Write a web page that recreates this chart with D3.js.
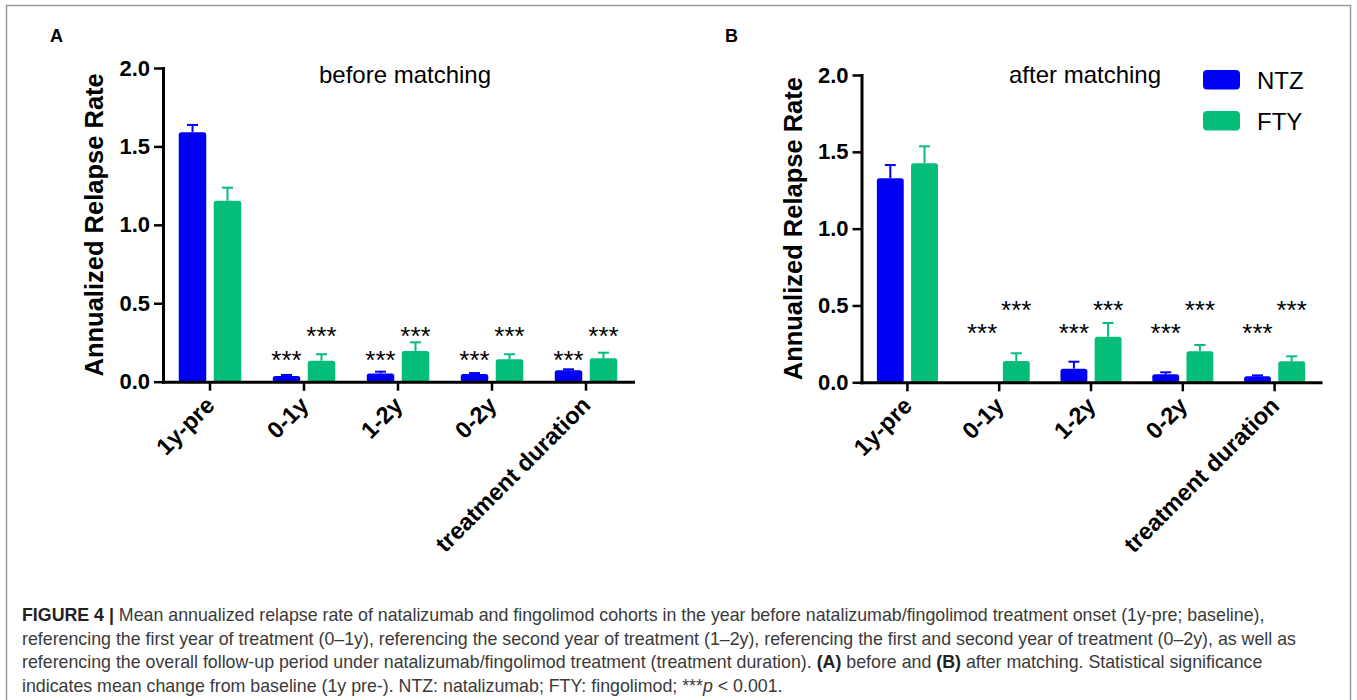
<!DOCTYPE html>
<html>
<head>
<meta charset="utf-8">
<script src="https://cdn.jsdelivr.net/npm/d3@7/dist/d3.min.js"></script>
<style>
  html, body { margin: 0; padding: 0; background: #fff; }
  svg { display: block; font-family: "Liberation Sans", Arial, Helvetica, sans-serif; }
</style>
</head>
<body>
<svg id="fig" width="1357" height="700"></svg>
<script>
// Annualized relapse rate per period, natalizumab (NTZ) vs fingolimod (FTY)
const categories = ["1y-pre", "0-1y", "1-2y", "0-2y", "treatment duration"];
const seriesNames = ["NTZ", "FTY"];
const yTicks = [0, 0.5, 1.0, 1.5, 2.0];

// Panel A: before matching (mean and upper SEM)
const beforeNTZ    = [1.591, 0.036, 0.053, 0.049, 0.073];
const beforeNTZErr = [0.046, 0.007, 0.011, 0.006, 0.006];
const beforeFTY    = [1.154, 0.134, 0.196, 0.143, 0.149];
const beforeFTYErr = [0.083, 0.041, 0.055, 0.032, 0.036];

// Panel B: after matching
const afterNTZ    = [1.328, 0.000, 0.089, 0.052, 0.039];
const afterNTZErr = [0.086, 0.000, 0.045, 0.013, 0.006];
const afterFTY    = [1.425, 0.139, 0.297, 0.202, 0.137];
const afterFTYErr = [0.111, 0.050, 0.089, 0.041, 0.032];

// Heights at which the significance marks sit (NTZ row, FTY row)
const beforeStarLevels = [0.170, 0.319];
const afterStarLevels  = [0.351, 0.499];
// Which periods carry a mark (all but baseline)
const significant = [false, true, true, true, true];

const colors = { NTZ: "#0000f5", FTY: "#03bd78" };

const svg = d3.select("#fig");
svg.append("rect").attr("width", 1357).attr("height", 700).attr("fill", "#fff");

// outer figure frame
svg.append("rect")
  .attr("x", 6.5).attr("y", 5.5).attr("width", 1344).attr("height", 700)
  .attr("fill", "none").attr("stroke", "#9a9a9a").attr("stroke-width", 1.5);

function drawPanel(opt) {
  const g = svg.append("g");
  const x = d3.scaleBand().domain(categories).range(opt.xRange);
  const inner = d3.scaleBand().domain(seriesNames).range([0, x.bandwidth()])
    .paddingInner(0.214).paddingOuter(0.45);
  const y = d3.scaleLinear().domain([0, 2]).range(opt.yRange);

  const rows = [];
  categories.forEach((c, i) => {
    rows.push({ cat: c, s: "NTZ", v: opt.ntz[i], e: opt.ntzErr[i], i });
    rows.push({ cat: c, s: "FTY", v: opt.fty[i], e: opt.ftyErr[i], i });
  });

  // bars
  g.selectAll("rect.bar").data(rows.filter(d => d.v > 0)).join("rect")
    .attr("class", "bar")
    .attr("x", d => x(d.cat) + inner(d.s))
    .attr("width", inner.bandwidth())
    .attr("y", d => y(d.v))
    .attr("height", d => y(0) - y(d.v))
    .attr("rx", 2.5)
    .attr("fill", d => colors[d.s]);

  // upper error bars
  const eb = g.selectAll("g.err").data(rows.filter(d => d.e > 0)).join("g")
    .attr("class", "err")
    .attr("stroke", d => colors[d.s]).attr("stroke-width", 2);
  eb.append("line")
    .attr("x1", d => x(d.cat) + inner(d.s) + inner.bandwidth() / 2)
    .attr("x2", d => x(d.cat) + inner(d.s) + inner.bandwidth() / 2)
    .attr("y1", d => y(d.v)).attr("y2", d => y(d.v + d.e));
  eb.append("line")
    .attr("x1", d => x(d.cat) + inner(d.s) + inner.bandwidth() / 2 - 5.5)
    .attr("x2", d => x(d.cat) + inner(d.s) + inner.bandwidth() / 2 + 5.5)
    .attr("y1", d => y(d.v + d.e)).attr("y2", d => y(d.v + d.e));

  // significance marks
  const starSize = 26;
  g.selectAll("text.star").data(rows.filter(d => significant[d.i])).join("text")
    .attr("class", "star")
    .attr("x", d => x(d.cat) + inner(d.s) + inner.bandwidth() / 2)
    .attr("y", d => y(opt.stars[d.s === "NTZ" ? 0 : 1]) + starSize * 0.53)
    .attr("text-anchor", "middle")
    .attr("font-size", starSize)
    .attr("fill", "#000")
    .text("***");

  // y axis
  const yAxis = g.append("g")
    .attr("transform", `translate(${opt.xRange[0]},0)`)
    .call(d3.axisLeft(y).tickValues(yTicks).tickFormat(d3.format(".1f"))
      .tickSize(9).tickSizeOuter(0).tickPadding(4));
  yAxis.select(".domain").attr("stroke-width", 3).attr("stroke-linecap", "square");
  yAxis.selectAll(".tick line").attr("stroke-width", 2.5);
  yAxis.selectAll(".tick text")
    .attr("font-family", "Liberation Sans, Arial, sans-serif")
    .attr("font-size", 22).attr("font-weight", "bold").attr("fill", "#000");

  // x axis
  const xAxis = g.append("g")
    .attr("transform", `translate(0,${opt.yRange[0]})`)
    .call(d3.axisBottom(x).tickSize(9).tickSizeOuter(0));
  xAxis.select(".domain").attr("stroke-width", 3).attr("stroke-linecap", "square");
  xAxis.selectAll(".tick line").attr("stroke-width", 2.5);
  xAxis.selectAll(".tick text")
    .attr("font-family", "Liberation Sans, Arial, sans-serif")
    .attr("font-size", 23.5).attr("font-weight", "bold").attr("fill", "#000")
    .attr("text-anchor", "end")
    .attr("y", 0).attr("dy", 0)
    .attr("transform", "translate(6,25) rotate(-45)");

  // y axis title
  const yMid = (opt.yRange[0] + opt.yRange[1]) / 2;
  g.append("text")
    .attr("transform", `translate(${opt.yTitleX},${yMid}) rotate(-90)`)
    .attr("text-anchor", "middle")
    .attr("font-size", 25.5).attr("font-weight", "bold")
    .text("Annualized Relapse Rate");

  // panel heading and letter
  g.append("text")
    .attr("x", opt.titleX).attr("y", 83.3)
    .attr("text-anchor", "middle").attr("font-size", 24)
    .text(opt.title);
  g.append("text")
    .attr("x", opt.letterX).attr("y", 42)
    .attr("font-size", 18).attr("font-weight", "bold")
    .text(opt.letter);
}

drawPanel({
  xRange: [163, 633], yRange: [381.7, 68],
  ntz: beforeNTZ, ntzErr: beforeNTZErr, fty: beforeFTY, ftyErr: beforeFTYErr,
  stars: beforeStarLevels, title: "before matching", titleX: 405,
  letter: "A", letterX: 50, yTitleX: 103
});

drawPanel({
  xRange: [861.5, 1320.5], yRange: [382.3, 75],
  ntz: afterNTZ, ntzErr: afterNTZErr, fty: afterFTY, ftyErr: afterFTYErr,
  stars: afterStarLevels, title: "after matching", titleX: 1085,
  letter: "B", letterX: 725, yTitleX: 802
});

// legend
const legend = svg.append("g");
const legendRows = [{ s: "NTZ", y: 70 }, { s: "FTY", y: 111 }];
legend.selectAll("rect").data(legendRows).join("rect")
  .attr("x", 1203).attr("y", d => d.y).attr("width", 37).attr("height", 19.5)
  .attr("rx", 4).attr("fill", d => colors[d.s]);
legend.selectAll("text").data(legendRows).join("text")
  .attr("x", 1257).attr("y", d => d.y + 19.3)
  .attr("font-size", 24).attr("fill", "#000")
  .text(d => d.s);

// caption
const cap = svg.append("g").attr("font-size", 17.8).attr("fill", "#3a3a3a");
const capLines = [
  [["FIGURE 4 | ", "b"], ["Mean annualized relapse rate of natalizumab and fingolimod cohorts in the year before natalizumab/fingolimod treatment onset (1y-pre; baseline),", ""]],
  [["referencing the first year of treatment (0\u20131y), referencing the second year of treatment (1\u20132y), referencing the first and second year of treatment (0\u20132y), as well as", ""]],
  [["referencing the overall follow-up period under natalizumab/fingolimod treatment (treatment duration). ", ""], ["(A)", "b"], [" before and ", ""], ["(B)", "b"], [" after matching. Statistical significance", ""]],
  [["indicates mean change from baseline (1y pre-). NTZ: natalizumab; FTY: fingolimod; ***", ""], ["p", "i"], [" < 0.001.", ""]]
];
const capBase = [621, 645, 668, 692];
capLines.forEach((line, li) => {
  const t = cap.append("text").attr("x", 22).attr("y", capBase[li]);
  line.forEach(([txt, st]) => {
    const sp = t.append("tspan").text(txt);
    if (st === "b") sp.attr("font-weight", "bold").attr("fill", "#222");
    if (st === "i") sp.attr("font-style", "italic");
  });
});
</script>
</body>
</html>
